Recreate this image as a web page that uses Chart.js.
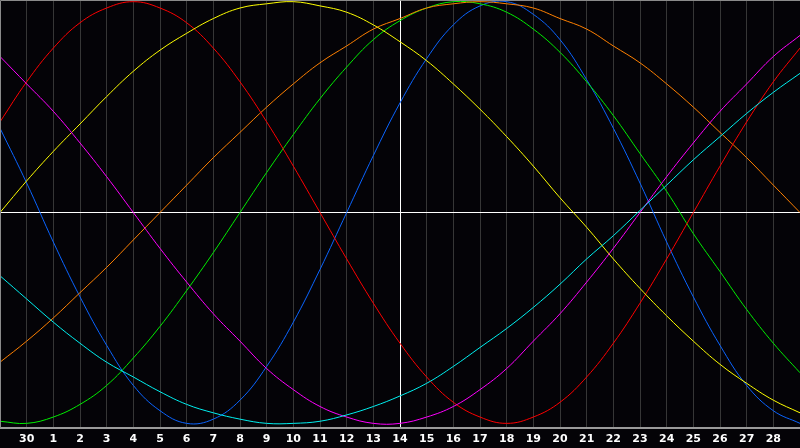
<!DOCTYPE html>
<html>
<head>
<meta charset="utf-8">
<style>
  html, body { margin: 0; padding: 0; background: #040307; }
  #wrap { width: 800px; height: 448px; }
</style>
<script src="https://cdn.jsdelivr.net/npm/chart.js@4"></script>
</head>
<body>
<div id="wrap"><canvas id="bioChart" width="800" height="448"></canvas></div>
<script>
// day labels along the bottom (first and last slot carry no label)
const dayLabels = ['', '30', '1', '2', '3', '4', '5', '6', '7', '8', '9', '10', '11', '12', '13',
  '14', '15', '16', '17', '18', '19', '20', '21', '22', '23', '24', '25', '26', '27', '28', ''];

// values, one per day slot, -1 .. 1
const redValues = [0.43, 0.62, 0.78, 0.90, 0.97, 1.00, 0.97, 0.90, 0.78, 0.62, 0.43, 0.22, 0.00,
  -0.22, -0.43, -0.62, -0.78, -0.90, -0.97, -1.00, -0.97, -0.90, -0.78, -0.62, -0.43, -0.22, 0.00,
  0.22, 0.43, 0.62, 0.78];
const yellowValues = [0.00, 0.15, 0.29, 0.42, 0.55, 0.67, 0.77, 0.85, 0.92, 0.97, 0.99, 1.00, 0.98,
  0.95, 0.89, 0.81, 0.72, 0.61, 0.49, 0.36, 0.22, 0.07, -0.07, -0.22, -0.36, -0.49, -0.61, -0.72,
  -0.81, -0.89, -0.95];
const orangeValues = [-0.71, -0.61, -0.50, -0.38, -0.26, -0.13, 0.00, 0.13, 0.26, 0.38, 0.50, 0.61,
  0.71, 0.79, 0.87, 0.92, 0.97, 0.99, 1.00, 0.99, 0.97, 0.92, 0.87, 0.79, 0.71, 0.61, 0.50, 0.38,
  0.26, 0.13, 0.00];
const greenValues = [-0.99, -1.00, -0.97, -0.91, -0.82, -0.69, -0.54, -0.37, -0.19, 0.00, 0.19, 0.37,
  0.54, 0.69, 0.82, 0.91, 0.97, 1.00, 0.99, 0.95, 0.87, 0.76, 0.62, 0.46, 0.28, 0.10, -0.10, -0.28,
  -0.46, -0.62, -0.76];
const blueValues = [0.40, 0.14, -0.14, -0.40, -0.63, -0.82, -0.94, -1.00, -0.98, -0.89, -0.73, -0.52,
  -0.27, 0.00, 0.27, 0.52, 0.73, 0.89, 0.98, 1.00, 0.94, 0.82, 0.63, 0.40, 0.14, -0.14, -0.40, -0.63,
  -0.82, -0.94, -1.00];
const magentaValues = [0.74, 0.61, 0.48, 0.33, 0.17, 0.00, -0.17, -0.33, -0.48, -0.61, -0.74, -0.84,
  -0.92, -0.97, -1.00, -1.00, -0.97, -0.92, -0.84, -0.74, -0.61, -0.48, -0.33, -0.17, 0.00, 0.17,
  0.33, 0.48, 0.61, 0.74, 0.84];
const cyanValues = [-0.30, -0.41, -0.52, -0.62, -0.71, -0.78, -0.85, -0.91, -0.95, -0.98, -1.00, -1.00,
  -0.99, -0.96, -0.92, -0.87, -0.81, -0.73, -0.64, -0.55, -0.45, -0.34, -0.22, -0.11, 0.01, 0.13,
  0.25, 0.36, 0.47, 0.57, 0.66];

const series = [
  { data: cyanValues, color: '#00f0f0' },
  { data: magentaValues, color: '#ff00ff' },
  { data: yellowValues, color: '#ffff00' },
  { data: redValues, color: '#ff0000' },
  { data: orangeValues, color: '#ff8000' },
  { data: greenValues, color: '#00ee00' },
  { data: blueValues, color: '#0a64ff' },
];

const bgPlugin = {
  id: 'bg',
  beforeDraw(chart) {
    const c = chart.ctx;
    c.save();
    c.fillStyle = '#040307';
    c.fillRect(0, 0, chart.width, chart.height);
    c.restore();
  },
  afterDatasetsDraw(chart) {
    // thin frame on the top and left edges
    const a = chart.chartArea;
    const c = chart.ctx;
    c.save();
    c.strokeStyle = '#8a8a8a';
    c.lineWidth = 1;
    c.beginPath();
    c.moveTo(a.left + 0.5, a.bottom);
    c.lineTo(a.left + 0.5, a.top + 0.5);
    c.lineTo(a.right, a.top + 0.5);
    c.stroke();
    c.restore();
  },
};

function initBioChart() {
  const canvas = document.getElementById('bioChart');
  if (!(canvas instanceof HTMLCanvasElement)) return;
  if (typeof Chart === 'undefined') return;

  // eslint-disable-next-line no-new
  new Chart(canvas, {
    type: 'line',
    data: {
      labels: dayLabels,
      datasets: series.map((s) => ({
        data: s.data,
        borderColor: s.color,
        borderWidth: 1,
        pointRadius: 0,
        tension: 0.4,
        fill: false,
      })),
    },
    options: {
      responsive: false,
      animation: false,
      events: [],
      layout: { padding: 0 },
      plugins: {
        legend: { display: false },
        tooltip: { enabled: false },
      },
      scales: {
        x: {
          offset: false,
          afterFit(scale) {
            scale.height = 20;
            scale.paddingLeft = 0;
            scale.paddingRight = 0;
          },
          grid: {
            drawTicks: false,
            color(ctx) {
              if (ctx.index === 15) return '#ffffff';
              if (ctx.index === 0 || ctx.index === 30) return 'rgba(0,0,0,0)';
              return '#363636';
            },
          },
          border: { display: true, color: '#9a9a9a', width: 2 },
          ticks: {
            autoSkip: false,
            maxRotation: 0,
            padding: 5,
            color: '#ffffff',
            font: { family: 'DejaVu Sans', size: 11, weight: 'bold' },
            callback(value, index) { return dayLabels[index]; },
          },
        },
        y: {
          min: -1.022,
          max: 1.008,
          afterFit(scale) {
            scale.width = 0;
            scale.paddingTop = 0;
            scale.paddingBottom = 0;
          },
          afterBuildTicks(scale) { scale.ticks = [{ value: 0 }]; },
          grid: { drawTicks: false, color: '#ffffff' },
          border: { display: false },
          ticks: { display: false },
        },
      },
    },
    plugins: [bgPlugin],
  });
}

document.addEventListener('DOMContentLoaded', () => {
  initBioChart();
});
</script>
</body>
</html>
